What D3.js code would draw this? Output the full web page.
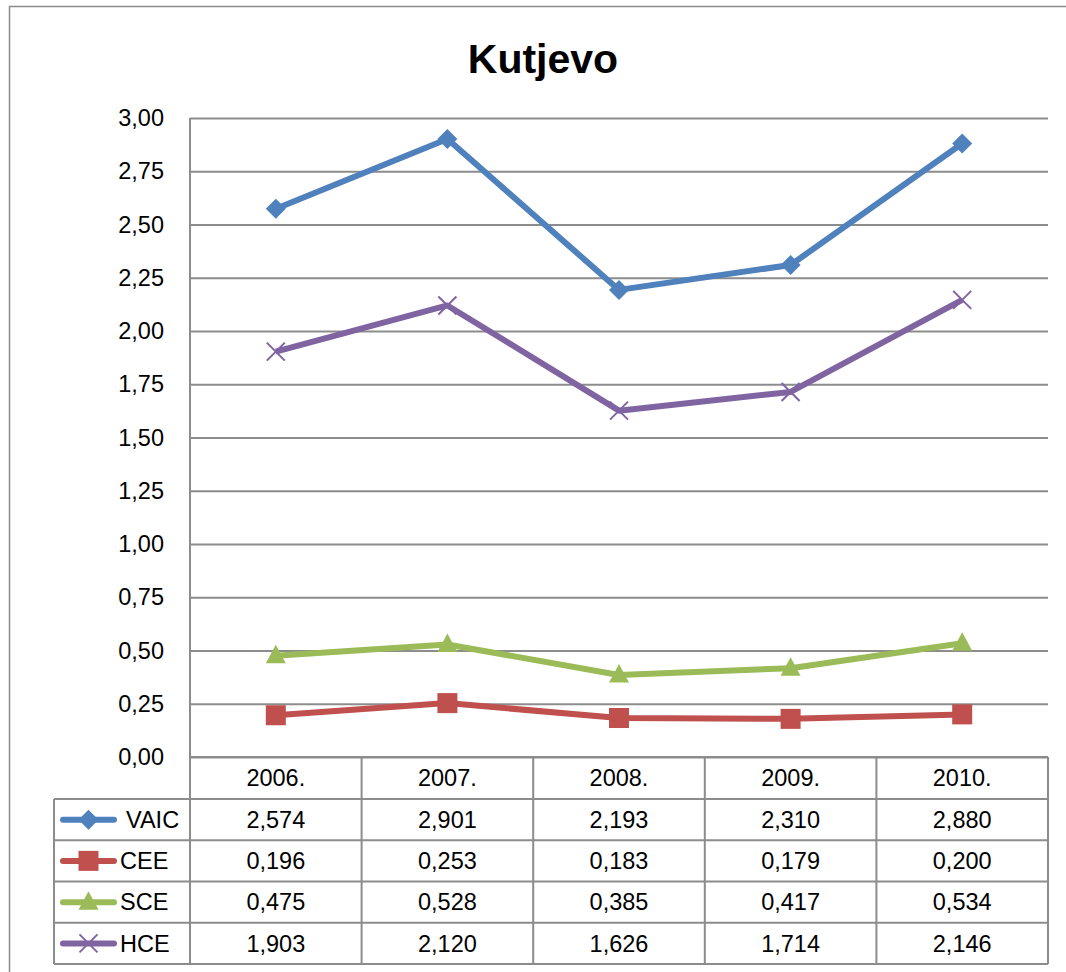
<!DOCTYPE html>
<html>
<head>
<meta charset="utf-8">
<script src="https://cdn.jsdelivr.net/npm/d3@7"></script>
<style>
  body { margin: 0; background: #fff; }
  text { font-family: "Liberation Sans", Arial, sans-serif; fill: #000; }
</style>
</head>
<body>
<svg id="chart" width="1066" height="972"></svg>
<script>
// Data
let years = ['2006.', '2007.', '2008.', '2009.', '2010.'];
let seriesNames = ['VAIC', 'CEE', 'SCE', 'HCE'];
let vaic = [2.574, 2.901, 2.193, 2.310, 2.880];
let cee = [0.196, 0.253, 0.183, 0.179, 0.200];
let sce = [0.475, 0.528, 0.385, 0.417, 0.534];
let hce = [1.903, 2.120, 1.626, 1.714, 2.146];
let yTicks = [0, 0.25, 0.5, 0.75, 1, 1.25, 1.5, 1.75, 2, 2.25, 2.5, 2.75, 3];

let colors = ['#4F81BD', '#C0504D', '#9BBB59', '#8064A2'];
let markers = ['diamond', 'square', 'triangle', 'cross'];
let seriesValues = [vaic, cee, sce, hce];

let svg = d3.select('#chart');
let grid = '#8c8c8c';

let locale = d3.formatLocale({ decimal: ',', thousands: '.', grouping: [3], currency: ['', ''] });
let fmt2 = locale.format('.2f');
let fmt3 = locale.format('.3f');

// Outer frame
svg.append('rect')
    .attr('x', 9.5).attr('y', 6.5)
    .attr('width', 1100).attr('height', 1000)
    .attr('fill', 'none')
    .attr('stroke', grid)
    .attr('stroke-width', 1.5);

// Title
svg.append('text')
    .attr('x', 543).attr('y', 73)
    .attr('text-anchor', 'middle')
    .style('font-size', '41px')
    .style('font-weight', 'bold')
    .text('Kutjevo');

// Scales
let x = d3.scaleBand().domain(years).range([190, 1048]);
let y = d3.scaleLinear().domain([0, 3]).range([757, 118]);

// Y axis with gridlines
let yAxis = d3.axisLeft(y)
    .tickValues(yTicks)
    .tickFormat(fmt2)
    .tickSize(-(1048 - 190))
    .tickPadding(26);

let gy = svg.append('g')
    .attr('transform', 'translate(190,0)')
    .call(yAxis);
gy.select('.domain').remove();
gy.selectAll('.tick line').attr('stroke', grid).attr('stroke-width', 2);
gy.selectAll('.tick text')
    .style('font-size', '23.5px')
    .style('font-family', '"Liberation Sans", Arial, sans-serif')
    .attr('fill', '#000');

svg.append('line')
    .attr('x1', 190).attr('x2', 190)
    .attr('y1', y(3)).attr('y2', y(0))
    .attr('stroke', grid).attr('stroke-width', 2);

// Marker shapes
function drawMarker(g, type, color, cx, cy, s) {
    if (type === 'diamond') {
        g.append('path')
            .attr('d', `M${cx},${cy - s}L${cx + s},${cy}L${cx},${cy + s}L${cx - s},${cy}Z`)
            .attr('fill', color);
    } else if (type === 'square') {
        g.append('rect')
            .attr('x', cx - s).attr('y', cy - s)
            .attr('width', 2 * s).attr('height', 2 * s)
            .attr('fill', color);
    } else if (type === 'triangle') {
        g.append('path')
            .attr('d', `M${cx},${cy - s * 1.1}L${cx + s},${cy + s * 0.75}L${cx - s},${cy + s * 0.75}Z`)
            .attr('fill', color);
    } else {
        g.append('path')
            .attr('d', `M${cx - s},${cy - s}L${cx + s},${cy + s}M${cx + s},${cy - s}L${cx - s},${cy + s}`)
            .attr('stroke', color)
            .attr('stroke-width', 2)
            .attr('fill', 'none');
    }
}

let markerSize = [10, 10, 10, 9];

// Lines
let line = d3.line()
    .x((d, i) => x(years[i]) + x.bandwidth() / 2)
    .y(d => y(d));

seriesValues.forEach(function (vals, k) {
    let g = svg.append('g');
    g.append('path')
        .datum(vals)
        .attr('d', line)
        .attr('fill', 'none')
        .attr('stroke', colors[k])
        .attr('stroke-width', 6)
        .attr('stroke-linejoin', 'round');
    vals.forEach(function (v, i) {
        drawMarker(g, markers[k], colors[k], x(years[i]) + x.bandwidth() / 2, y(v), markerSize[k]);
    });
});

// Data table
let rowTop = 799, rowH = 41.25, headTop = 757;
let tbl = svg.append('g');

// horizontal lines
tbl.append('line')
    .attr('x1', 190).attr('x2', 1048)
    .attr('y1', headTop).attr('y2', headTop)
    .attr('stroke', grid).attr('stroke-width', 2);
for (let r = 0; r <= seriesNames.length; r++) {
    let yy = rowTop + r * rowH;
    tbl.append('line')
        .attr('x1', 54).attr('x2', 1048)
        .attr('y1', yy).attr('y2', yy)
        .attr('stroke', grid).attr('stroke-width', 2);
}
// vertical lines
let tableBottom = rowTop + seriesNames.length * rowH;
tbl.append('line')
    .attr('x1', 54).attr('x2', 54)
    .attr('y1', rowTop).attr('y2', tableBottom)
    .attr('stroke', grid).attr('stroke-width', 2);
years.forEach(function (yr, i) {
    tbl.append('line')
        .attr('x1', x(yr)).attr('x2', x(yr))
        .attr('y1', headTop).attr('y2', tableBottom)
        .attr('stroke', grid).attr('stroke-width', 2);
});
tbl.append('line')
    .attr('x1', 1048).attr('x2', 1048)
    .attr('y1', headTop).attr('y2', tableBottom)
    .attr('stroke', grid).attr('stroke-width', 2);

// header
years.forEach(function (yr) {
    tbl.append('text')
        .attr('x', x(yr) + x.bandwidth() / 2)
        .attr('y', (headTop + rowTop) / 2)
        .attr('dy', '0.35em')
        .attr('text-anchor', 'middle')
        .style('font-size', '23.5px')
        .text(yr);
});

// rows
seriesNames.forEach(function (name, k) {
    let cy = rowTop + k * rowH + rowH / 2;
    let lg = tbl.append('g');
    lg.append('line')
        .attr('x1', 63).attr('x2', 114)
        .attr('y1', cy).attr('y2', cy)
        .attr('stroke', colors[k])
        .attr('stroke-width', 6)
        .attr('stroke-linecap', 'round');
    drawMarker(lg, markers[k], colors[k], 88.5, cy, markerSize[k]);
    tbl.append('text')
        .attr('x', k === 0 ? 126 : 120)
        .attr('y', cy)
        .attr('dy', '0.35em')
        .style('font-size', '23.5px')
        .text(name);
    seriesValues[k].forEach(function (v, i) {
        tbl.append('text')
            .attr('x', x(years[i]) + x.bandwidth() / 2)
            .attr('y', cy)
            .attr('dy', '0.35em')
            .attr('text-anchor', 'middle')
            .style('font-size', '23.5px')
            .text(fmt3(v));
    });
});
</script>
</body>
</html>
